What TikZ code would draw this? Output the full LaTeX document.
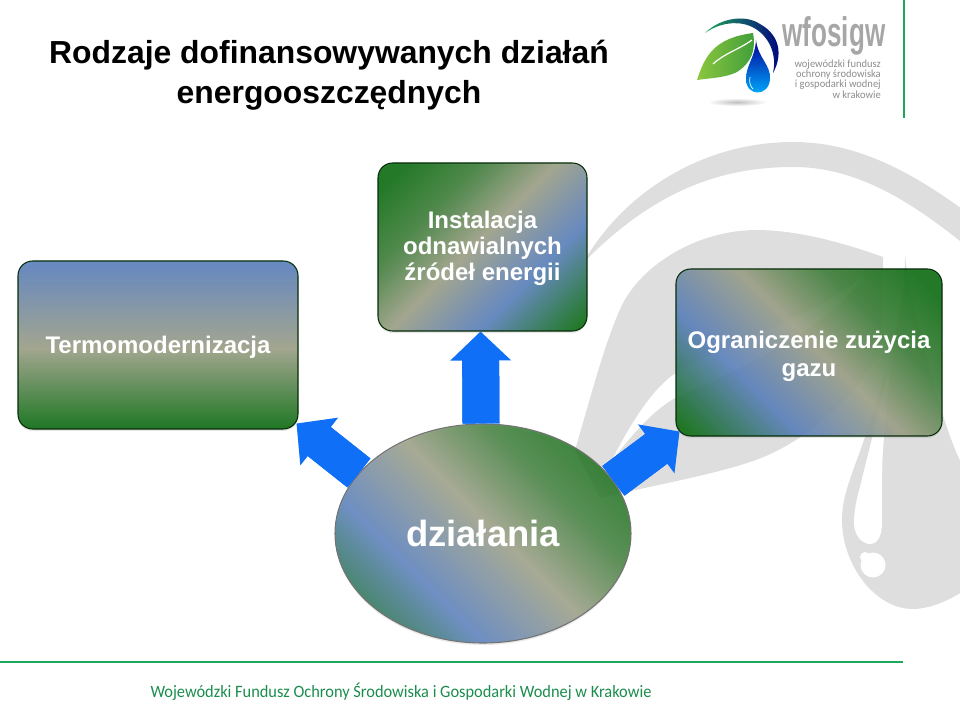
\documentclass[tikz,border=0pt]{standalone}
\usepackage{fontspec}
\setmainfont{Liberation Sans}
\newfontfamily\logofont{Carlito}
\usetikzlibrary{arrows.meta,calc,shapes.geometric,shadows}

\definecolor{leafgreen}{HTML}{0F6E14}
\definecolor{khaki}{HTML}{9C9F86}
\definecolor{steelblue}{HTML}{5A80BC}
\definecolor{arrowblue}{HTML}{0F6FF6}
\definecolor{rulegreen}{HTML}{1FA65A}
\definecolor{markgray}{HTML}{DEDEDE}
\definecolor{logolight}{HTML}{8CC63F}
\definecolor{logodark}{HTML}{3F9E3A}

\pgfdeclareverticalshading{fourtone}{100bp}{color(0bp)=(leafgreen); color(20bp)=(leafgreen);
  color(34bp)=(leafgreen!65!khaki); color(48bp)=(khaki); color(65bp)=(steelblue); color(83bp)=(leafgreen); color(100bp)=(leafgreen)}
\pgfdeclareverticalshading{threetone}{100bp}{color(0bp)=(leafgreen); color(26bp)=(leafgreen);
  color(49bp)=(khaki); color(74bp)=(steelblue); color(100bp)=(steelblue)}

\newcommand{\topgap}[1]{\rule{0pt}{#1}}

\begin{document}
\begin{tikzpicture}[x=0.75pt,y=-0.75pt,
  title/.style={font=\bfseries\fontsize{23.9}{30}\selectfont,align=center,inner sep=0pt},
  card/.style={draw=black!60!leafgreen,thick,rounded corners=11pt,fill opacity=.9,text opacity=1,
    text=white,font=\bfseries\fontsize{18}{19.5}\selectfont,align=center,inner sep=0pt,
    drop shadow={opacity=.18,shadow xshift=0pt,shadow yshift=-1.5pt},shading=fourtone},
  flow/.style={arrowblue,line width=27.75pt,
    -{Triangle[length=21.75pt,width=45.75pt,line width=0pt]}},
  flowbody/.style={arrowblue,line width=27.75pt,shorten >=20.5pt}]

\useasboundingbox (0,0) rectangle (960,702);

% watermark
\begin{scope}
\clip (0,0) rectangle (960,702);
\fill[markgray] (583,263) .. controls (625,190) and (705,142) .. (793,142)
      .. controls (860,142) and (915,175) .. (965,211) -- (965,245)
      .. controls (915,205) and (860,167) .. (793,167)
      .. controls (715,167) and (650,195) .. (583,263) -- cycle;
\fill[markgray] (575,450) .. controls (590,400) and (605,340) .. (623,303)
      .. controls (645,262) and (700,230) .. (757,230)
      .. controls (800,230) and (850,245) .. (883,257) -- (883,268) -- (880,350)
      .. controls (850,410) and (790,450) .. (747,463)
      .. controls (710,475) and (665,483) .. (600,498) -- cycle;
\fill[white] (612,460) .. controls (630,425) and (650,392) .. (673,375)
      .. controls (720,345) and (810,320) .. (863,277)
      .. controls (830,325) and (760,360) .. (675,398)
      .. controls (650,412) and (630,438) .. (612,460) -- cycle;
\fill[markgray] (905,255) .. controls (905,320) and (880,390) .. (865,437)
      .. controls (852,475) and (842,495) .. (842,520)
      .. controls (842,565) and (875,609) .. (913,609)
      .. controls (930,609) and (950,600) .. (965,590) -- (965,470)
      .. controls (950,445) and (935,390) .. (925,350)
      .. controls (915,310) and (908,285) .. (905,255) -- cycle;
\fill[white] (893,340) .. controls (888,380) and (870,445) .. (860,487)
      .. controls (855,505) and (854,515) .. (854,523)
      .. controls (854,535) and (862,544) .. (870,544)
      .. controls (878,544) and (882,535) .. (882,523)
      .. controls (882,500) and (881,470) .. (884,437)
      .. controls (886,410) and (890,375) .. (893,340) -- cycle;
\fill[white] (873,565) circle (12.5) (865,557) circle (5);
\end{scope}

% rules
\draw[rulegreen,line width=1.5pt] (903.5,0) -- (903.5,118);
\draw[rulegreen,line width=1.5pt] (0,662) -- (903,662);

% title and footer
\draw (329,75) node[title] (heading) {Rodzaje dofinansowywanych działań\\energooszczędnych};
\draw (401,692) node[font=\logofont\fontsize{13}{15}\selectfont,xscale=.945,text=rulegreen!85!black,inner sep=0pt] (footer)
      {Wojewódzki Fundusz Ochrony Środowiska i Gospodarki Wodnej w Krakowie};

% logo
\shade[inner color=black!25,outer color=white] (737,102) ellipse (30 and 4);
\shade[left color=rulegreen,right color=blue!50!black] (705,33) .. controls (720,18) and (745,14) .. (760,24)
      .. controls (780,35) and (783,55) .. (773,73)
      .. controls (778,50) and (765,32) .. (750,26)
      .. controls (735,20) and (718,24) .. (705,33) -- cycle;
\shade[left color=logolight,right color=logodark] (697,80)
      .. controls (705,55) and (715,38) .. (753,33)
      .. controls (756,50) and (752,62) .. (737,72)
      .. controls (725,78) and (710,78) .. (697,80) -- cycle;
\draw[white,line width=.9pt] (713,64) .. controls (725,53) and (738,50) .. (752,40);
\shade[top color=blue!60!black,bottom color=cyan!70!blue] (756,40)
      .. controls (758,58) and (771,65) .. (770,79)
      .. controls (769,97) and (746,97) .. (746,79)
      .. controls (746,65) and (755,58) .. (756,40) -- cycle;
\draw[white,line width=.5pt] (750,77) .. controls (749,82) and (750,86) .. (753,89);
\draw (834,36) node[font=\bfseries\fontsize{31}{32}\selectfont,text=black!35,xscale=.63,inner sep=0pt] (wordmark) {wfosigw};
\draw (881,79) node[anchor=east,align=right,font=\logofont\fontsize{8.2}{7.8}\selectfont,xscale=.96,text=black!45,inner sep=0pt] (logotext)
      {wojewódzki fundusz\\ochrony środowiska\\i gospodarki wodnej\\w krakowie};

% boxes
\draw (158,345) node[card,shading=threetone,minimum width=210pt,minimum height=126pt] (termo)
      {\topgap{16pt}Termomodernizacja};
\draw (482.5,247) node[card,shading angle=225,minimum width=156.75pt,minimum height=126pt] (instalacja)
      {\topgap{14.6pt}Instalacja\\odnawialnych\\źródeł energii};
\draw (809,352.5) node[card,shading angle=135,minimum width=199.5pt,minimum height=125.25pt,
      font=\bfseries\fontsize{18}{21}\selectfont] (ograniczenie)
      {\topgap{18.3pt}Ograniczenie zużycia\\gazu};
\draw (483,533.5) node[card,ellipse,draw=black!55,fill opacity=.85,shading angle=135,minimum width=222pt,minimum height=164.25pt,
      font=\bfseries\fontsize{27.3}{30}\selectfont] (dzialania) {działania};

% arrows
\draw[flowbody] ([xshift=-1.5pt]dzialania.north) -- ([xshift=-1.5pt]instalacja.south);
\draw[flow] ([xshift=-1.5pt]dzialania.north) -- ([xshift=-1.5pt]instalacja.south);
\draw[flowbody] (dzialania.154) -- ($(termo.south east)+(-2,-6)$);
\draw[flow] (dzialania.154) -- ($(termo.south east)+(-2,-6)$);
\draw[flowbody] (dzialania.22) -- ($(ograniczenie.south west)+(4,-5)$);
\draw[flow] (dzialania.22) -- ($(ograniczenie.south west)+(4,-5)$);

\end{tikzpicture}
\end{document}
